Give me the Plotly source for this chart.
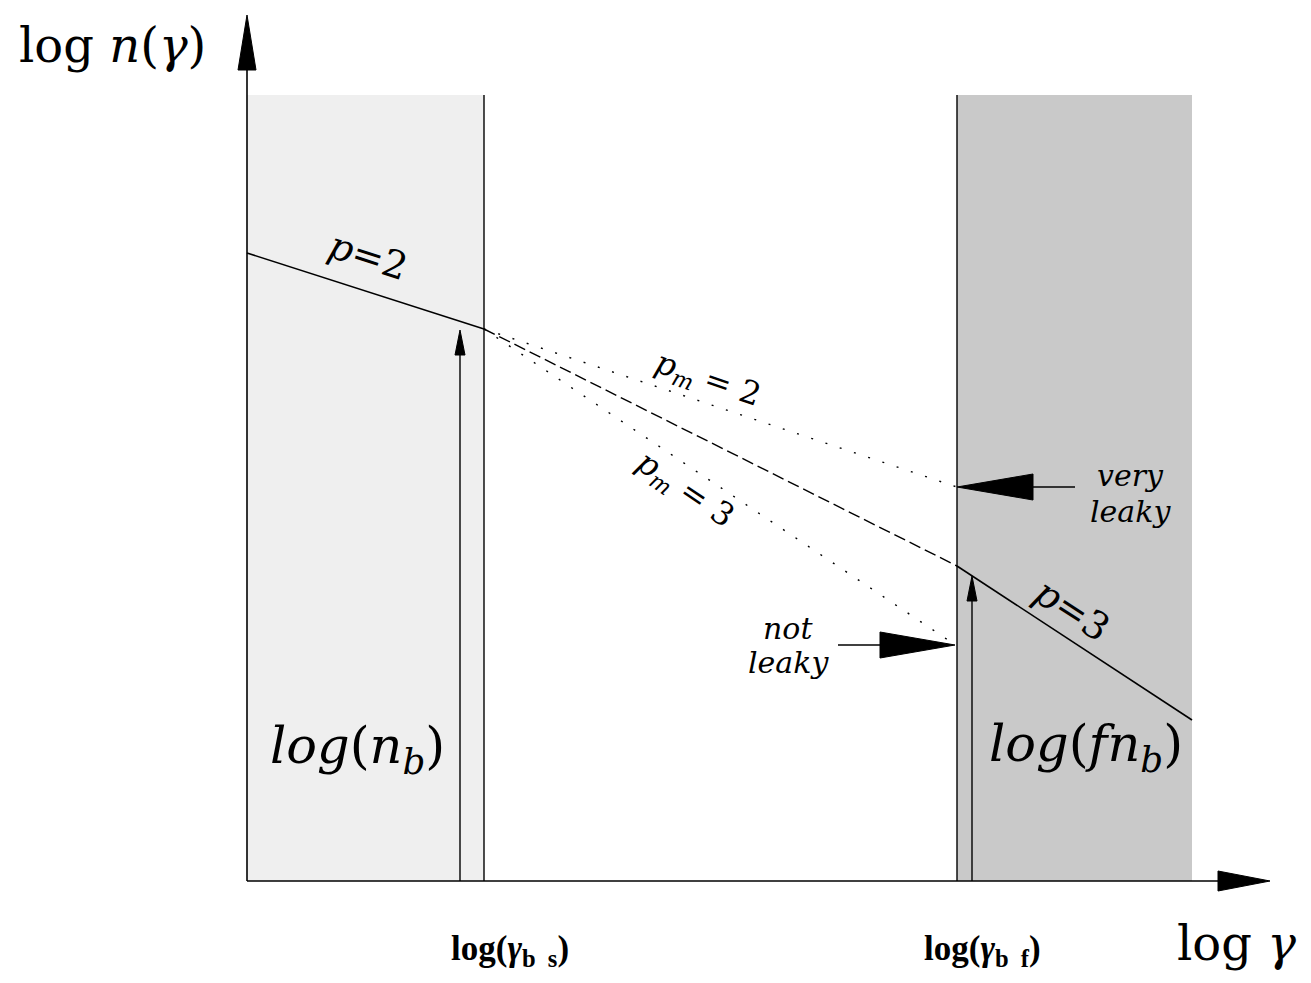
import plotly.graph_objects as go

# ---- schematic data (units: picture pixels, y measured upward from bottom) ----
x_origin = 247
y_origin = 102
x_axis_tip = 1270
y_axis_tip = 968
log_gamma_bs = 484
log_gamma_bf = 957
x_end = 1192
band_top = 888

# broken power-law n(gamma)
p2_x = [247, 484]
p2_y = [730, 654]
mid_x = [484, 957]
mid_y = [654, 417]
p3_x = [957, 1192]
p3_y = [417, 263]
pm2_x = [484, 957]
pm2_y = [654, 496]
pm3_x = [484, 948]
pm3_y = [654, 343]

# vertical marker arrows (x, tip y)
nb_arrow = (460, 653)
fnb_arrow = (972, 407)

# labelling arrows (tail x, tip x, y)
very_leaky_arrow = (1075, 957, 496)
not_leaky_arrow = (838, 955, 338)

MATH = "DejaVu Serif"
ROMAN = "Liberation Serif"

fig = go.Figure()

# shaded bands
fig.add_shape(type="rect", x0=x_origin, x1=log_gamma_bs, y0=y_origin, y1=band_top,
              xref="x", yref="y", fillcolor="#efefef", line_width=0, layer="below")
fig.add_shape(type="rect", x0=log_gamma_bf, x1=x_end, y0=y_origin, y1=band_top,
              xref="x", yref="y", fillcolor="#c9c9c9", line_width=0, layer="below")

def line(xs, ys, dash="solid", width=1.6):
    fig.add_trace(go.Scatter(x=xs, y=ys, mode="lines",
                             line=dict(color="black", width=width, dash=dash),
                             hoverinfo="skip", showlegend=False))

def head(tip, direction, length, half):
    tx, ty = tip
    dx, dy = direction
    bx, by = tx - dx * length, ty - dy * length
    px, py = -dy, dx
    xs = [tx, bx + px * half, bx - px * half, tx]
    ys = [ty, by + py * half, by - py * half, ty]
    fig.add_trace(go.Scatter(x=xs, y=ys, mode="lines", fill="toself",
                             fillcolor="black", line=dict(color="black", width=1),
                             hoverinfo="skip", showlegend=False))

# band edge lines
line([log_gamma_bs, log_gamma_bs], [y_origin, band_top], width=1.4)
line([log_gamma_bf, log_gamma_bf], [y_origin, band_top], width=1.4)

# axes
line([x_origin, x_origin], [y_origin, y_axis_tip - 40], width=1.6)
line([x_origin, x_axis_tip - 40], [y_origin, y_origin], width=1.6)
head((x_origin, y_axis_tip), (0, 1), 55, 9)
head((x_axis_tip, y_origin), (1, 0), 52, 10)

# spectrum
line(p2_x, p2_y, width=1.6)
line(mid_x, mid_y, dash="12px,5px", width=1.4)
line(p3_x, p3_y, width=1.6)
line(pm2_x, pm2_y, dash="2px,13px", width=1.4)
line(pm3_x, pm3_y, dash="2px,13px", width=1.4)

# vertical marker arrows
for ax_, tip_y in (nb_arrow, fnb_arrow):
    line([ax_, ax_], [y_origin, tip_y - 20], width=1.4)
    head((ax_, tip_y), (0, 1), 25, 5)

# leaky arrows
tx, hx, hy = very_leaky_arrow
line([tx, hx + 60], [hy, hy], width=1.6)
head((hx, hy), (-1, 0), 76, 13)
tx, hx, hy = not_leaky_arrow
line([tx, hx - 60], [hy, hy], width=1.6)
head((hx, hy), (1, 0), 75, 13)

def txt(x, y, s, size, angle=0, family=MATH):
    fig.add_annotation(x=x, y=y, xref="x", yref="y", text=s, showarrow=False,
                       textangle=angle, xanchor="center", yanchor="middle",
                       font=dict(family=family, size=size, color="black"))

txt(112, 938, "log <i>n</i>(<i>γ</i>)", 48)
txt(368, 727, "<i>p</i>=2", 38, angle=18)
txt(707, 603, "<i>p</i><sub><i>m</i></sub> = 2", 32, angle=19)
txt(684, 493, "<i>p</i><sub><i>m</i></sub> = 3", 32, angle=34)
txt(1072, 373, "<i>p</i>=3", 38, angle=33)
txt(1130, 508, "<i>very</i>", 30)
txt(1130, 472, "<i>leaky</i>", 30)
txt(788, 355, "<i>not</i>", 30)
txt(788, 321, "<i>leaky</i>", 30)
txt(357, 234, "<i>log</i>(<i>n</i><sub><i>b</i></sub>)", 51)
txt(1086, 236, "<i>log</i>(<i>fn</i><sub><i>b</i></sub>)", 51)
txt(510, 33, "<b>log(<i>γ</i><sub>b  s</sub>)</b>", 35, family=ROMAN)
txt(982, 33, "<b>log(<i>γ</i><sub>b  f</sub>)</b>", 35, family=ROMAN)
txt(1236, 40, "log <i>γ</i>", 48)

fig.update_layout(
    width=1311, height=983,
    margin=dict(l=0, r=0, t=0, b=0),
    paper_bgcolor="white", plot_bgcolor="white",
    xaxis=dict(range=[0, 1311], visible=False, fixedrange=True),
    yaxis=dict(range=[0, 983], visible=False, fixedrange=True),
    showlegend=False,
)

fig.write_html("out.html", config={"displayModeBar": False},
               post_script="document.body.style.margin='0';document.body.style.overflow='hidden';")
